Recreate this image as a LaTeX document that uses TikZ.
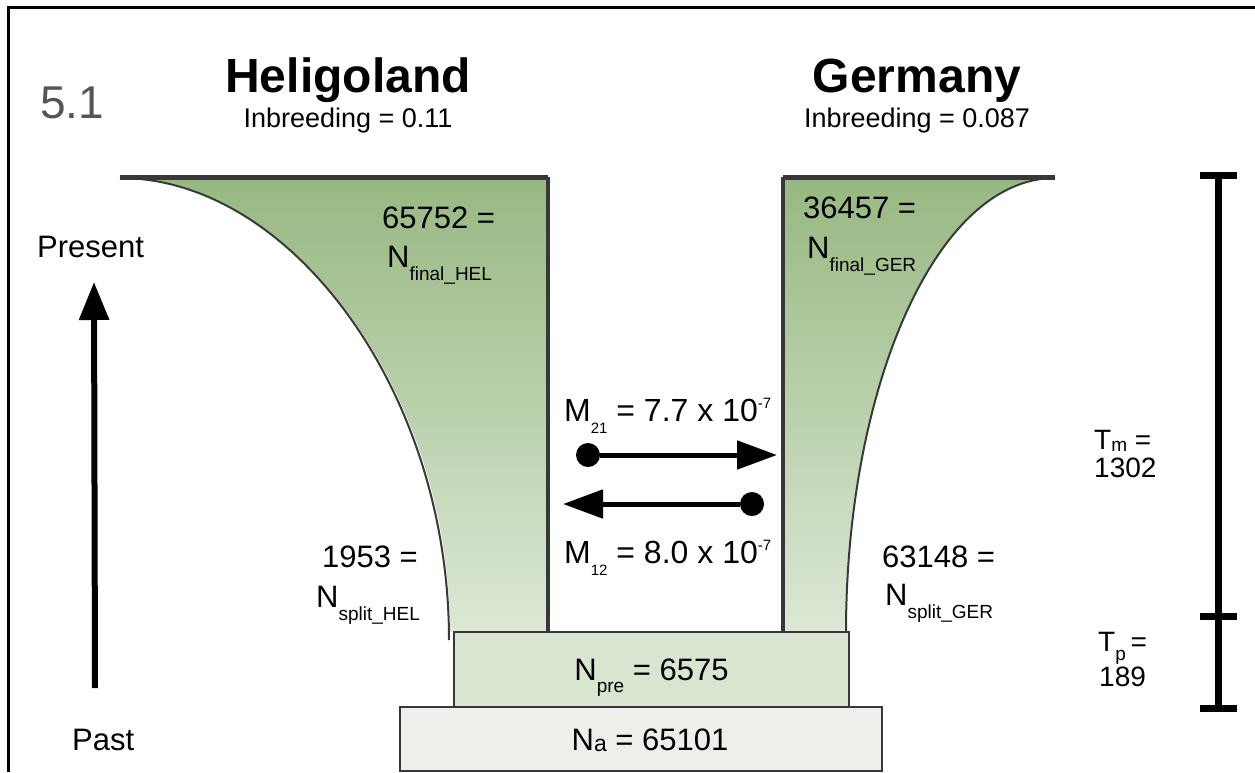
\documentclass[tikz,border=0pt]{standalone}
\usepackage{fontspec}
\setmainfont{Liberation Sans}
\usetikzlibrary{arrows.meta}

\definecolor{funtop}{HTML}{97B882}
\definecolor{funmid}{HTML}{BAD1A8}
\definecolor{funbot}{HTML}{DDE8D6}
\definecolor{prefill}{HTML}{D8E6D1}
\definecolor{ancfill}{HTML}{EEEFEA}
\definecolor{edgegray}{HTML}{383838}
\definecolor{numgray}{HTML}{555555}

% lowered / raised small text
\newcommand{\lowsub}[2][-13pt]{\raisebox{#1}{\fontsize{19}{19}\selectfont #2}}
\newcommand{\tinysub}[2][-12pt]{\raisebox{#1}{\fontsize{15}{15}\selectfont #2}}

\tikzset{
  lbl/.style={font=\fontsize{31}{31}\selectfont, inner sep=0pt, anchor=base west},
  popname/.style={font=\fontsize{48}{48}\selectfont\bfseries, inner sep=0pt, anchor=base},
  inbr/.style={font=\fontsize{27}{27}\selectfont, inner sep=0pt, anchor=base},
  popbox/.style={draw=edgegray, line width=1.5pt, inner sep=0pt,
    font=\fontsize{31}{31}\selectfont, text height=22pt, text depth=0pt},
  dot/.style={circle, fill=black, inner sep=0pt, minimum size=24pt},
  migr/.style={line width=5pt, -{Triangle[length=40pt,width=28pt]}},
  barline/.style={line width=7pt},
  tlbl/.style={lbl, font=\fontsize{28}{28}\selectfont}
}

\begin{document}
\begin{tikzpicture}[x=1pt,y=-1pt]
\useasboundingbox (0,0) rectangle (1255,772);

% frame
\draw[line width=3pt] (8,772) -- (8,7) -- (1255,7);

\node[font=\fontsize{46}{46}\selectfont, text=numgray, inner sep=0pt, anchor=base west] (fig) at (40,118) {5.1};

% population names
\node[popname] (hel) at (348,92) {Heligoland};
\node[inbr] (helinb) at (348,127) {Inbreeding = 0.11};
\node[popname] (ger) at (917,92) {Germany};
\node[inbr] (gerinb) at (917,127) {Inbreeding = 0.087};

% Heligoland funnel
\shade[top color=funtop, middle color=funmid, bottom color=funbot]
  (120,177) -- (548,177) -- (548,632) -- (450,632) .. controls (450,390) and (290,177) .. (120,177);
\draw[edgegray, line width=5pt] (120,177) -- (548,177);
\draw[edgegray, line width=4pt] (548,177) -- (548,632);
\draw[edgegray, line width=2pt] (449,640) .. controls (449,390) and (290,178) .. (120,178);

% Germany funnel
\shade[top color=funtop, middle color=funmid, bottom color=funbot]
  (783,177) -- (1055,177) .. controls (935,177) and (845,390) .. (845,632) -- (783,632) -- cycle;
\draw[edgegray, line width=5pt] (783,177) -- (1055,177);
\draw[edgegray, line width=4pt] (783,177) -- (783,632);
\draw[edgegray, line width=2pt] (1055,178) .. controls (935,178) and (846,390) .. (846,632);

% ancestral boxes
\node[popbox, fill=ancfill, minimum width=482pt, minimum height=64pt] (anc) at (641,739)
  {\hspace*{18pt}N\lowsub[-1pt]{\fontsize{23}{23}\selectfont a} = 65101};
\node[popbox, fill=prefill, minimum width=395pt, minimum height=75pt] (pre) at (651.5,669.5)
  {N\lowsub[-12pt]{pre} = 6575};

% size labels
\node[lbl] (helfinnum) at (382,228) {65752 =};
\node[lbl] (helfin) at (387,267) {N\lowsub{final\_HEL}};
\node[lbl] (helsplnum) at (322,567) {1953 =};
\node[lbl] (helspl) at (316,607) {N\lowsub{split\_HEL}};
\node[lbl] (gerfinnum) at (803,218) {36457 =};
\node[lbl] (gerfin) at (807,258) {N\lowsub{final\_GER}};
\node[lbl] (gersplnum) at (882,567) {63148 =};
\node[lbl] (gerspl) at (885,605) {N\lowsub{split\_GER}};

% migration
\node[lbl, font=\fontsize{32}{32}\selectfont] (m21) at (564,421)
  {M\tinysub{21} = 7.7 x 10\tinysub[13pt]{-7}};
\node[lbl, font=\fontsize{32}{32}\selectfont] (m12) at (564,563)
  {M\tinysub{12} = 8.0 x 10\tinysub[13pt]{-7}};
\node[dot] (d21) at (588,455) {};
\coordinate (t21) at (777,455);
\node[dot] (d12) at (752,504) {};
\coordinate (t12) at (563,504);
\draw[migr] (d21) -- (t21);
\draw[migr] (d12) -- (t12);

% time direction
\node[lbl] (present) at (37,257) {Present};
\node[lbl] (past) at (72,750) {Past};
\coordinate (arrbot) at (95,688);
\coordinate (arrtop) at (94,282);
\draw[line width=6pt, -{Triangle[length=38pt,width=29pt]}] (arrbot) -- (arrtop);

% time scale
\coordinate (bartop) at (1218,172);
\coordinate (barmid) at (1218,620);
\coordinate (barbot) at (1218,712);
\draw[barline, {Bar[width=37pt]}-{Bar[width=37pt]}] (bartop) -- (barmid);
\draw[barline, -{Bar[width=37pt]}] (barmid) -- (barbot);
\node[tlbl] (tm) at (1094,449) {T\lowsub[-2pt]{m} =};
\node[tlbl] (tmval) at (1094,477) {1302};
\node[tlbl] (tp) at (1098,651) {T\lowsub[-9pt]{p}\hspace{-3pt} =};
\node[tlbl] (tpval) at (1099,686) {189};
\end{tikzpicture}
\end{document}
